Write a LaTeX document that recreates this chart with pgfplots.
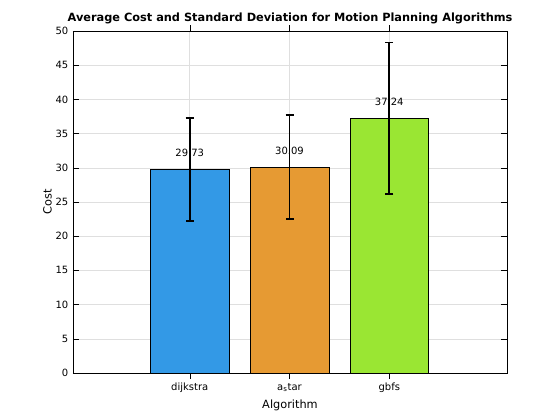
\documentclass[border=0pt]{standalone}
\usepackage{pgfplots}
\pgfplotsset{compat=1.18}
\usepackage{fontspec}
\setmainfont{DejaVu Sans}
\definecolor{cb}{RGB}{51,153,230}
\definecolor{co}{RGB}{230,154,51}
\definecolor{cg}{RGB}{154,230,51}
\begin{document}
\begin{tikzpicture}
\begin{axis}[
  scale only axis, width=325.5pt, height=256.5pt,
  xmin=-0.17, xmax=4.18, ymin=0, ymax=50,
  xtick={1,2,3}, xticklabels={dijkstra,a$_\mathrm{s}$tar,gbfs},
  ytick={0,5,...,50},
  tick align=inside, axis line style={black}, tick style={black},
  grid=major, grid style={gray!25},
  /pgf/number format/assume math mode=true,
  tick label style={font=\fontsize{7.5}{9}\selectfont},
  xlabel={Algorithm}, ylabel={Cost},
  label style={font=\fontsize{8.5}{10}\selectfont},
  xlabel style={yshift=2pt}, ylabel style={yshift=-4pt},
  title={\textbf{Average Cost and Standard Deviation for Motion Planning Algorithms}},
  title style={font=\fontsize{8.5}{10}\selectfont, yshift=-4pt},
  ybar, bar width=0.79, bar shift=0pt,
  enlargelimits=false, clip=false,
]
\addplot[fill=cb, draw=black, nodes near coords={\pgfmathprintnumber[fixed,precision=2,fixed zerofill]{\pgfplotspointmeta}}, every node near coord/.style={font=\fontsize{7.5}{9}\selectfont, yshift=6pt}, error bars/.cd, y dir=both, y explicit, error bar style={line width=1.2pt}, error mark options={rotate=90, mark size=3pt, line width=1.2pt}] coordinates {(1,29.73) +- (0,7.55)};
\addplot[fill=co, draw=black, nodes near coords={\pgfmathprintnumber[fixed,precision=2,fixed zerofill]{\pgfplotspointmeta}}, every node near coord/.style={font=\fontsize{7.5}{9}\selectfont, yshift=6pt}, error bars/.cd, y dir=both, y explicit, error bar style={line width=1.2pt}, error mark options={rotate=90, mark size=3pt, line width=1.2pt}] coordinates {(2,30.09) +- (0,7.6)};
\addplot[fill=cg, draw=black, nodes near coords={\pgfmathprintnumber[fixed,precision=2,fixed zerofill]{\pgfplotspointmeta}}, every node near coord/.style={font=\fontsize{7.5}{9}\selectfont, yshift=6pt}, error bars/.cd, y dir=both, y explicit, error bar style={line width=1.2pt}, error mark options={rotate=90, mark size=3pt, line width=1.2pt}] coordinates {(3,37.24) +- (0,11.1)};
\end{axis}
\pgfresetboundingbox
\path[use as bounding box] ([xshift=-54.75pt,yshift=-35.25pt]current axis.south west) rectangle ([xshift=39.75pt,yshift=23.25pt]current axis.north east);
\end{tikzpicture}
\end{document}
